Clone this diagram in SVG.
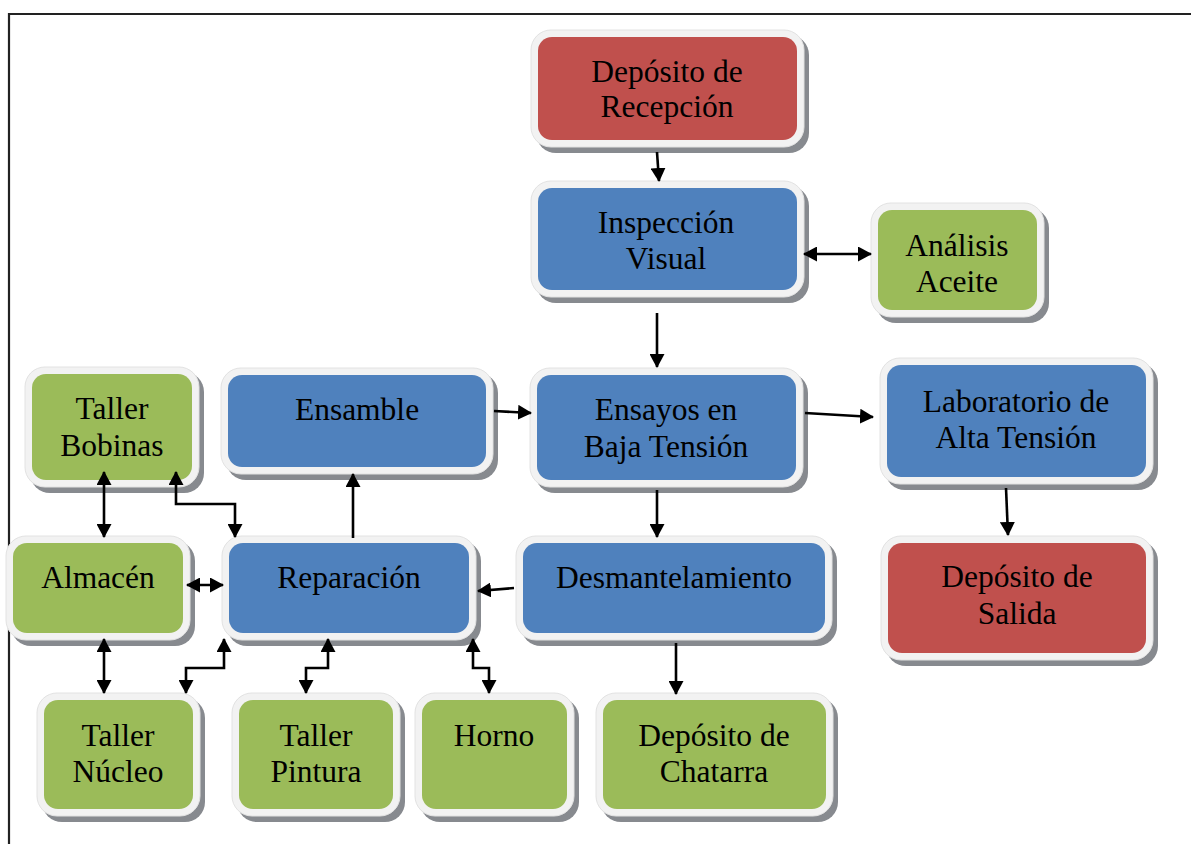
<svg xmlns="http://www.w3.org/2000/svg" width="1191" height="844" viewBox="0 0 1191 844">
<style>
.sh{fill:#878a8f}
.fr{fill:#f2f2f2;stroke:#e2e2e2;stroke-width:1}
.red{fill:#c0504d}
.blue{fill:#4f81bd}
.green{fill:#9bbb59}
text{font-family:"Liberation Serif","Times New Roman",serif;font-size:31.5px;fill:#000;text-anchor:middle}
.c{fill:none;stroke:#000;stroke-width:2.6}
</style>
<defs>
<marker id="ah" markerUnits="userSpaceOnUse" markerWidth="15" markerHeight="15" refX="13" refY="7.5" orient="auto-start-reverse" viewBox="0 0 15 15">
<path d="M0,0 L14,7.5 L0,15 z" fill="#000"/>
</marker>
</defs>
<rect width="1191" height="844" fill="#fff"/>
<path d="M9,844 V14 H1191" fill="none" stroke="#222" stroke-width="2.2"/>

<g id="recepcion"><rect class="sh" x="536" y="35" width="273" height="118" rx="20"/><rect class="fr" x="531" y="30" width="273" height="117" rx="20"/><rect class="red" x="538" y="37" width="259" height="103" rx="14"/><text x="667" y="82">Depósito de</text><text x="667" y="117">Recepción</text></g>

<g id="inspeccion"><rect class="sh" x="536" y="186" width="273" height="117" rx="20"/><rect class="fr" x="531" y="181" width="273" height="116" rx="20"/><rect class="blue" x="538" y="188" width="259" height="102" rx="14"/><text x="666" y="233">Inspección</text><text x="666" y="269">Visual</text></g>

<g id="analisis"><rect class="sh" x="876" y="208" width="173" height="115" rx="20"/><rect class="fr" x="871" y="203" width="173" height="114" rx="20"/><rect class="green" x="878" y="210" width="159" height="100" rx="14"/><text x="957" y="256">Análisis</text><text x="957" y="292">Aceite</text></g>

<g id="ensayos"><rect class="sh" x="535" y="373" width="273" height="120" rx="20"/><rect class="fr" x="530" y="368" width="273" height="119" rx="20"/><rect class="blue" x="537" y="375" width="259" height="105" rx="14"/><text x="666" y="420">Ensayos en</text><text x="666" y="457">Baja Tensión</text></g>

<g id="laboratorio"><rect class="sh" x="885" y="363" width="273" height="127" rx="20"/><rect class="fr" x="880" y="358" width="273" height="126" rx="20"/><rect class="blue" x="887" y="365" width="259" height="112" rx="14"/><text x="1016" y="412">Laboratorio de</text><text x="1016" y="448">Alta Tensión</text></g>

<g id="ensamble"><rect class="sh" x="226" y="373" width="272" height="107" rx="20"/><rect class="fr" x="221" y="368" width="272" height="106" rx="20"/><rect class="blue" x="228" y="375" width="258" height="92" rx="14"/><text x="357" y="420">Ensamble</text></g>

<g id="bobinas"><rect class="sh" x="30" y="372" width="174" height="121" rx="20"/><rect class="fr" x="25" y="367" width="174" height="120" rx="20"/><rect class="green" x="32" y="374" width="160" height="106" rx="14"/><text x="112" y="419">Taller</text><text x="112" y="456">Bobinas</text></g>

<g id="almacen"><rect class="sh" x="11" y="541" width="184" height="105" rx="20"/><rect class="fr" x="6" y="536" width="184" height="104" rx="20"/><rect class="green" x="13" y="543" width="170" height="90" rx="14"/><text x="98" y="588">Almacén</text></g>

<g id="reparacion"><rect class="sh" x="227" y="541" width="254" height="105" rx="20"/><rect class="fr" x="222" y="536" width="254" height="104" rx="20"/><rect class="blue" x="229" y="543" width="240" height="90" rx="14"/><text x="349" y="588">Reparación</text></g>

<g id="desmantelamiento"><rect class="sh" x="521" y="541" width="316" height="105" rx="20"/><rect class="fr" x="516" y="536" width="316" height="104" rx="20"/><rect class="blue" x="523" y="543" width="302" height="90" rx="14"/><text x="674" y="588">Desmantelamiento</text></g>

<g id="salida"><rect class="sh" x="886" y="541" width="272" height="125" rx="20"/><rect class="fr" x="881" y="536" width="272" height="124" rx="20"/><rect class="red" x="888" y="543" width="258" height="110" rx="14"/><text x="1017" y="587">Depósito de</text><text x="1017" y="624">Salida</text></g>

<g id="nucleo"><rect class="sh" x="42" y="698" width="163" height="124" rx="20"/><rect class="fr" x="37" y="693" width="163" height="123" rx="20"/><rect class="green" x="44" y="700" width="149" height="109" rx="14"/><text x="118" y="746">Taller</text><text x="118" y="782">Núcleo</text></g>

<g id="pintura"><rect class="sh" x="237" y="698" width="168" height="124" rx="20"/><rect class="fr" x="232" y="693" width="168" height="123" rx="20"/><rect class="green" x="239" y="700" width="154" height="109" rx="14"/><text x="316" y="746">Taller</text><text x="316" y="782">Pintura</text></g>

<g id="horno"><rect class="sh" x="420" y="698" width="159" height="124" rx="20"/><rect class="fr" x="415" y="693" width="159" height="123" rx="20"/><rect class="green" x="422" y="700" width="145" height="109" rx="14"/><text x="494" y="746">Horno</text></g>

<g id="chatarra"><rect class="sh" x="601" y="698" width="237" height="124" rx="20"/><rect class="fr" x="596" y="693" width="237" height="123" rx="20"/><rect class="green" x="603" y="700" width="223" height="109" rx="14"/><text x="714" y="746">Depósito de</text><text x="714" y="782">Chatarra</text></g>

<g id="connectors">
<path class="c" d="M657,152 L659,181" marker-end="url(#ah)"/>
<path class="c" d="M657,313 L657,367" marker-end="url(#ah)"/>
<path class="c" d="M804,254 L871,254" marker-start="url(#ah)" marker-end="url(#ah)"/>
<path class="c" d="M494,411 L531,413" marker-end="url(#ah)"/>
<path class="c" d="M805,413 L873,417" marker-end="url(#ah)"/>
<path class="c" d="M1006,488 L1008,535" marker-end="url(#ah)"/>
<path class="c" d="M657,490 L657,537" marker-end="url(#ah)"/>
<path class="c" d="M514,588 L478,591" marker-end="url(#ah)"/>
<path class="c" d="M353,538 L353,474" marker-end="url(#ah)"/>
<path class="c" d="M676,643 L676,694" marker-end="url(#ah)"/>
<path class="c" d="M104,472 L104,537" marker-start="url(#ah)" marker-end="url(#ah)"/>
<path class="c" d="M176,472 L176,504 L235,504 L235,537" marker-start="url(#ah)" marker-end="url(#ah)"/>
<path class="c" d="M187,585 L223,585" marker-start="url(#ah)" marker-end="url(#ah)"/>
<path class="c" d="M104,639 L104,693" marker-start="url(#ah)" marker-end="url(#ah)"/>
<path class="c" d="M224,639 L224,668 L186,668 L186,693" marker-start="url(#ah)" marker-end="url(#ah)"/>
<path class="c" d="M328,639 L328,668 L306,668 L306,693" marker-start="url(#ah)" marker-end="url(#ah)"/>
<path class="c" d="M473,639 L473,668 L489,668 L489,693" marker-start="url(#ah)" marker-end="url(#ah)"/>
</g>
</svg>
